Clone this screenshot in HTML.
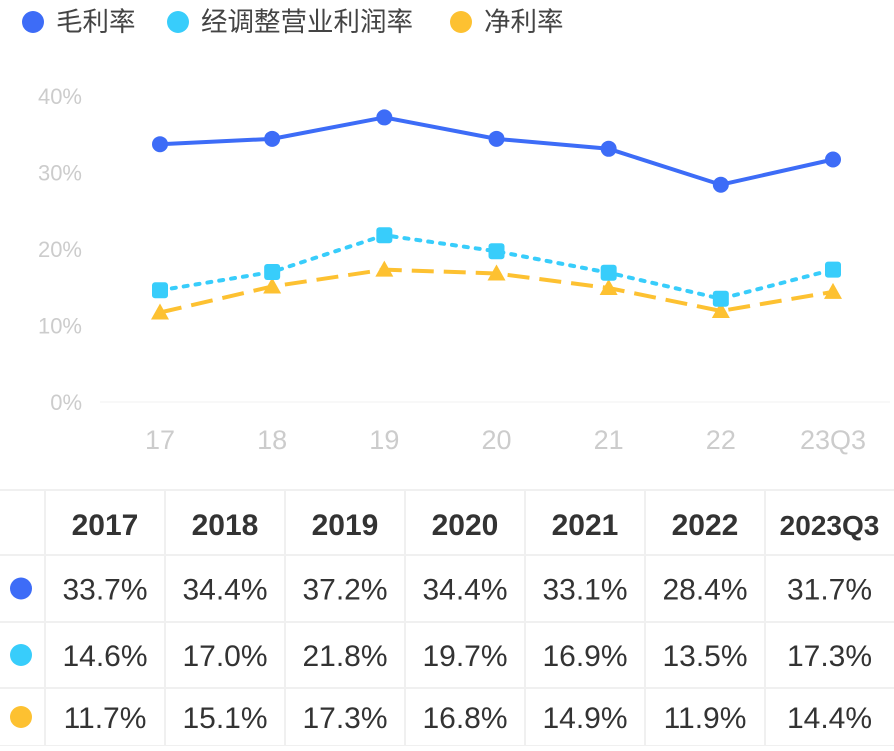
<!DOCTYPE html>
<html><head><meta charset="utf-8"><style>
body{margin:0;background:#fff;width:894px;height:746px;overflow:hidden;font-family:"Liberation Sans","Noto Sans CJK SC",sans-serif}
</style></head><body>
<svg id="c" width="894" height="746" xmlns="http://www.w3.org/2000/svg"></svg>
<script>
const categories=["17","18","19","20","21","22","23Q3"];
const headers=["2017","2018","2019","2020","2021","2022","2023Q3"];
const seriesNames=["毛利率","经调整营业利润率","净利率"];
const gross=[33.7,34.4,37.2,34.4,33.1,28.4,31.7];
const adjOp=[14.6,17.0,21.8,19.7,16.9,13.5,17.3];
const net=[11.7,15.1,17.3,16.8,14.9,11.9,14.4];
const yTicks=[0,10,20,30,40];
const colors=["#3d6cf7","#38cdfb","#fdc131"];
const NS="http://www.w3.org/2000/svg";
const svg=document.getElementById('c');
function mk(t,a,p){const e=document.createElementNS(NS,t);for(const k in a)e.setAttribute(k,a[k]);(p||svg).appendChild(e);return e;}
const x=i=>160+i*(833-160)/(categories.length-1);
const y=v=>402-v*7.65;
// legend
const lx=[33,178,461];
seriesNames.forEach((n,i)=>{
 const g=mk('g',{});
 mk('circle',{cx:lx[i],cy:22,r:11,fill:colors[i]},g);
 const t=mk('text',{x:lx[i]+23,y:31,'font-size':26.5,fill:'#444'},g);t.textContent=n;
});
// y ticks
yTicks.forEach(v=>{const t=mk('text',{x:82,y:y(v)+8,'font-size':22,fill:'#ccc','text-anchor':'end'});
 t.textContent=v+'%';});
mk('line',{x1:100,x2:890,y1:y(0),y2:y(0),stroke:'#f0f0f0'});
categories.forEach((c,i)=>{const t=mk('text',{x:x(i),y:449,'font-size':27,fill:'#ccc','text-anchor':'middle'});
 t.textContent=c;});
function line(data,col,dash,name,marker){
 const p=mk('polyline',{points:data.map((v,i)=>x(i)+','+y(v)).join(' '),fill:'none',stroke:col,'stroke-width':4,'stroke-dasharray':dash,'stroke-linecap':marker=='sq'?'round':'butt'});
 
 data.forEach((v,i)=>{let m;
  if(marker=='c')m=mk('circle',{cx:x(i),cy:y(v),r:8,fill:col});
  else if(marker=='sq')m=mk('rect',{x:x(i)-8,y:y(v)-8,width:16,height:16,rx:3,fill:col});
  else m=mk('polygon',{points:`${x(i)},${y(v)-9} ${x(i)+9},${y(v)+7} ${x(i)-9},${y(v)+7}`,fill:col});
  });
}
line(net,colors[2],'22 10','net-margin','t');
line(adjOp,colors[1],'4 8','adj-op-margin','sq');
line(gross,colors[0],'','gross-margin','c');
// table
const rowsY=[490,555,622,688,746];
const colX=[0,45,165,285,405,525,645,765,894];
rowsY.forEach(v=>mk('line',{x1:0,x2:894,y1:v,y2:v,stroke:'#f0f0f0','stroke-width':2}));
colX.slice(1,-1).forEach(v=>mk('line',{x1:v,x2:v,y1:490,y2:746,stroke:'#f0f0f0','stroke-width':2}));
headers.forEach((h,i)=>{const t=mk('text',{x:(colX[i+1]+colX[i+2])/2,y:535,'font-size':i==6?28:30,'font-weight':'bold',fill:'#333','text-anchor':'middle'});
 t.textContent=h;});
[gross,adjOp,net].forEach((d,r)=>{
 const cy=(rowsY[r+1]+rowsY[r+2])/2;
 const m=mk('circle',{cx:21,cy:cy,r:11,fill:colors[r]});
 d.forEach((v,i)=>{const t=mk('text',{x:(colX[i+1]+colX[i+2])/2,y:cy+11,'font-size':30,fill:'#333','text-anchor':'middle'});
  t.textContent=v.toFixed(1)+'%';});
});
</script>
</body></html>
